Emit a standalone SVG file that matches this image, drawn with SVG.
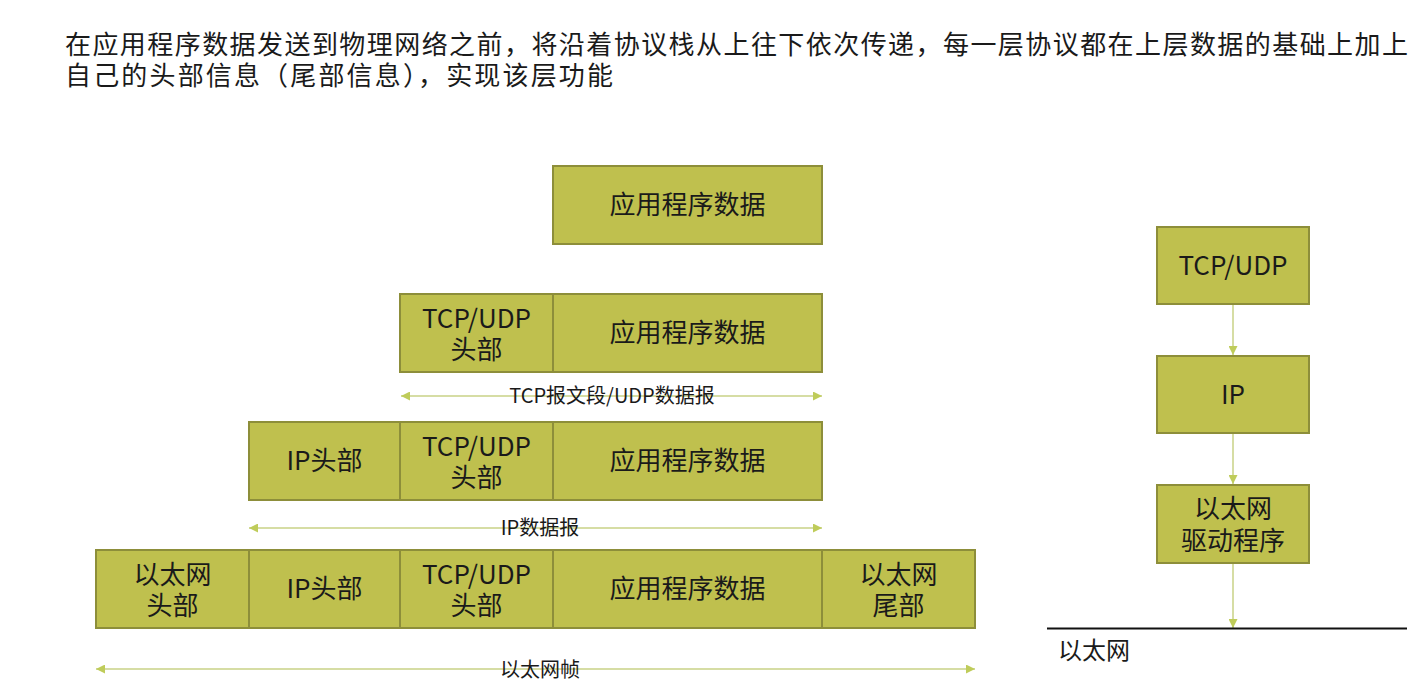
<svg xmlns="http://www.w3.org/2000/svg" width="1415" height="684" viewBox="0 0 1415 684">
<style>
.t{font-family:"Noto Sans CJK SC","Liberation Sans",sans-serif;fill:#1a1a1a}
.box{fill:#bfc04e;stroke:#8d8e3a;stroke-width:2}
.bt{font-family:"Noto Sans CJK SC","Liberation Sans",sans-serif;font-size:26px;fill:#1a1a1a;text-anchor:middle}
.al{font-family:"Noto Sans CJK SC","Liberation Sans",sans-serif;font-size:20px;fill:#1a1a1a;text-anchor:middle}
.ar{stroke:#c8d286;stroke-width:1.5;fill:none}
</style>
<defs>
<marker id="ae" viewBox="0 0 10 10" refX="10" refY="5" markerWidth="9" markerHeight="9" markerUnits="userSpaceOnUse" orient="auto"><path d="M0,0 L10,5 L0,10 z" fill="#bfcc5a"/></marker>
<marker id="as" viewBox="0 0 10 10" refX="0" refY="5" markerWidth="9" markerHeight="9" markerUnits="userSpaceOnUse" orient="auto"><path d="M10,0 L0,5 L10,10 z" fill="#bfcc5a"/></marker>
</defs>
<rect width="1415" height="684" fill="#fff"/>
<text class="t" font-size="26"><tspan x="65" y="54" textLength="1343" lengthAdjust="spacing">在应用程序数据发送到物理网络之前，将沿着协议栈从上往下依次传递，每一层协议都在上层数据的基础上加上</tspan><tspan x="65" y="85" textLength="548" lengthAdjust="spacing">自己的头部信息（尾部信息），实现该层功能</tspan></text>

<g id="row1">
<g id="r1-app"><rect class="box" x="553" y="166" width="269" height="78"/><text class="bt" x="687.5" y="214">应用程序数据</text></g>
</g>
<g id="row2">
<g id="r2-tcp"><rect class="box" x="400" y="294" width="153" height="78"/><text class="bt" x="476.5"><tspan x="476.5" y="328">TCP/UDP</tspan><tspan x="476.5" y="359">头部</tspan></text></g>
<g id="r2-app"><rect class="box" x="553" y="294" width="269" height="78"/><text class="bt" x="687.5" y="342">应用程序数据</text></g>
</g>
<g id="row3">
<g id="r3-ip"><rect class="box" x="249" y="422" width="151" height="78"/><text class="bt" x="324.5" y="470">IP头部</text></g>
<g id="r3-tcp"><rect class="box" x="400" y="422" width="153" height="78"/><text class="bt"><tspan x="476.5" y="456">TCP/UDP</tspan><tspan x="476.5" y="487">头部</tspan></text></g>
<g id="r3-app"><rect class="box" x="553" y="422" width="269" height="78"/><text class="bt" x="687.5" y="470">应用程序数据</text></g>
</g>
<g id="row4">
<g id="r4-eth"><rect class="box" x="96" y="550" width="153" height="78"/><text class="bt"><tspan x="172.5" y="584">以太网</tspan><tspan x="172.5" y="615">头部</tspan></text></g>
<g id="r4-ip"><rect class="box" x="249" y="550" width="151" height="78"/><text class="bt" x="324.5" y="598">IP头部</text></g>
<g id="r4-tcp"><rect class="box" x="400" y="550" width="153" height="78"/><text class="bt"><tspan x="476.5" y="584">TCP/UDP</tspan><tspan x="476.5" y="615">头部</tspan></text></g>
<g id="r4-app"><rect class="box" x="553" y="550" width="269" height="78"/><text class="bt" x="687.5" y="598">应用程序数据</text></g>
<g id="r4-tail"><rect class="box" x="822" y="550" width="153" height="78"/><text class="bt"><tspan x="898.5" y="584">以太网</tspan><tspan x="898.5" y="615">尾部</tspan></text></g>
</g>

<g id="stack">
<g id="s-tcp"><rect class="box" x="1157" y="227" width="152" height="77"/><text class="bt" x="1233" y="275">TCP/UDP</text></g>
<g id="s-ip"><rect class="box" x="1157" y="356" width="152" height="77"/><text class="bt" x="1233" y="404">IP</text></g>
<g id="s-eth"><rect class="box" x="1157" y="485" width="152" height="78"/><text class="bt"><tspan x="1233" y="518">以太网</tspan><tspan x="1233" y="550">驱动程序</tspan></text></g>
</g>

<g id="connectors">
<line class="ar" x1="401" y1="396" x2="822" y2="396" marker-start="url(#as)" marker-end="url(#ae)"/>
<line class="ar" x1="249" y1="528" x2="822" y2="528" marker-start="url(#as)" marker-end="url(#ae)"/>
<line class="ar" x1="96" y1="669" x2="975" y2="669" marker-start="url(#as)" marker-end="url(#ae)"/>
<line class="ar" x1="1233" y1="305" x2="1233" y2="355" marker-end="url(#ae)"/>
<line class="ar" x1="1233" y1="434" x2="1233" y2="484" marker-end="url(#ae)"/>
<line class="ar" x1="1233" y1="564" x2="1233" y2="628" marker-end="url(#ae)"/>
<line x1="1047" y1="628.5" x2="1407" y2="628.5" stroke="#111" stroke-width="2"/>
</g>
<text class="al" x="612" y="403">TCP报文段/UDP数据报</text>
<text class="al" x="540" y="535">IP数据报</text>
<text class="al" x="540" y="677" font-size="21">以太网帧</text>
<text class="t" x="1058" y="659" font-size="24">以太网</text>
</svg>
